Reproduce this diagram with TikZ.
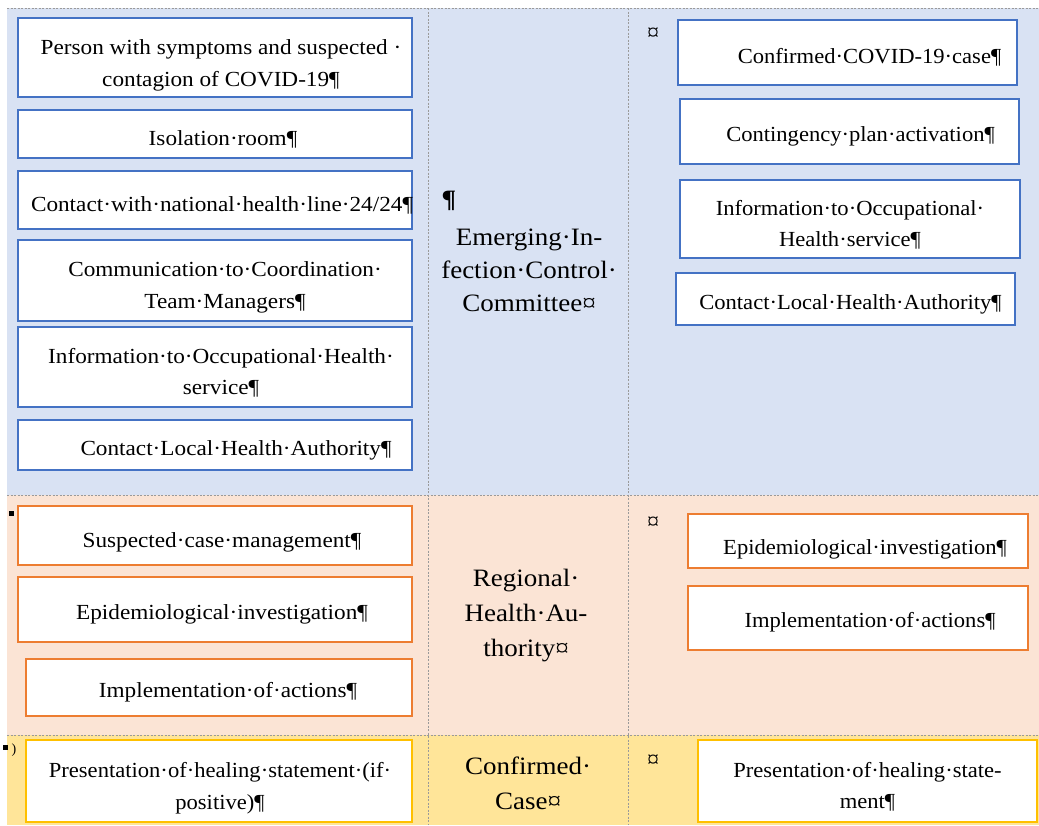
\documentclass[tikz,border=0pt]{standalone}
\usepackage{fontspec}
\setmainfont{Liberation Serif}
\newfontfamily\lfont[FakeStretch=1.08]{Liberation Serif}
\newfontfamily\rfont[FakeStretch=1.05]{Liberation Serif}
\definecolor{bluefill}{HTML}{D9E2F3}
\definecolor{orangefill}{HTML}{FBE4D5}
\definecolor{yellowfill}{HTML}{FFE599}
\definecolor{blueline}{HTML}{4472C4}
\definecolor{orangeline}{HTML}{ED7D31}
\definecolor{yellowline}{HTML}{FFC000}
\definecolor{gridgray}{HTML}{9A9A9A}
\tikzset{
  stepbox/.style={draw, line width=2.5pt, fill=white, inner sep=0pt},
  bluebox/.style={stepbox, draw=blueline},
  orangebox/.style={stepbox, draw=orangeline},
  yellowbox/.style={stepbox, draw=yellowline},
  ltext/.style={align=center, inner sep=0pt, font=\lfont\fontsize{21.5}{31.5}\selectfont},
  rtext/.style={align=center, inner sep=0pt, font=\rfont\fontsize{21.5}{31.5}\selectfont},
  midtext/.style={align=center, font=\lfont\fontsize{25}{33}\selectfont},
  cellmark/.style={font=\fontsize{24}{24}\selectfont, inner sep=0pt},
  gridline/.style={draw=gridgray, line width=0.8pt, dash pattern=on 2pt off 1.5pt}
}
\begin{document}
\begin{tikzpicture}[x=1pt,y=-1pt]
\useasboundingbox (0,0) rectangle (1039,825);
\fill[white] (0,0) rectangle (1039,825);
% row backgrounds
\fill[bluefill] (7,8) rectangle (1039,495);
\fill[orangefill] (7,495) rectangle (1039,735);
\fill[yellowfill] (7,735) rectangle (1039,825);
% grid
\draw[gridline] (7,8) -- (1039,8);
\draw[gridline] (7,495) -- (1039,495);
\draw[gridline] (7,735) -- (1039,735);
\draw[gridline] (428,8) -- (428,825);
\draw[gridline] (628,8) -- (628,825);

% ---- blue row, left column
\node[bluebox, minimum width=394pt, minimum height=79pt] (b1) at (215,57.5) {};
\node[ltext] (b1t) at ([xshift=6pt,yshift=-8pt]b1.center) {Person with symptoms and suspected ·\\contagion of COVID-19¶};
\node[bluebox, minimum width=394pt, minimum height=48pt] (b2) at (215,134) {};
\node[ltext] (b2t) at ([xshift=8pt,yshift=-5pt]b2.center) {Isolation·room¶};
\node[bluebox, minimum width=394pt, minimum height=58pt] (b3) at (215,200) {};
\node[ltext] (b3t) at ([xshift=7pt,yshift=-5pt]b3.center) {Contact·with·national·health·line·24/24¶};
\node[bluebox, minimum width=394pt, minimum height=81pt] (b4) at (215,280.5) {};
\node[ltext] (b4t) at ([xshift=10pt,yshift=-7pt]b4.center) {Communication·to·Coordination·\\Team·Managers¶};
\node[bluebox, minimum width=394pt, minimum height=80pt] (b5) at (215,367) {};
\node[ltext] (b5t) at ([xshift=6pt,yshift=-6pt]b5.center) {Information·to·Occupational·Health·\\service¶};
\node[bluebox, minimum width=394pt, minimum height=50pt] (b6) at (215,445) {};
\node[ltext] (b6t) at ([xshift=21pt,yshift=-5pt]b6.center) {Contact·Local·Health·Authority¶};

% ---- blue row, middle
\node[midtext, anchor=west] (bp) at (438,201) {\textbf{¶}};
\node[midtext] (bm) at (529,270) {Emerging·In-\\fection·Control·\\Committee¤};

% ---- blue row, right column
\node[cellmark] (bx) at (653,34) {¤};
\node[bluebox, minimum width=339pt, minimum height=65pt] (c1) at (847.5,52.5) {};
\node[rtext] (c1t) at ([xshift=22pt,yshift=-5pt]c1.center) {Confirmed·COVID-19·case¶};
\node[bluebox, minimum width=339pt, minimum height=65pt] (c2) at (849.5,131.5) {};
\node[rtext] (c2t) at ([xshift=11pt,yshift=-5pt]c2.center) {Contingency·plan·activation¶};
\node[bluebox, minimum width=340pt, minimum height=78pt] (c3) at (850,219) {};
\node[rtext] (c3t) at ([xshift=0pt,yshift=-6pt]c3.center) {Information·to·Occupational·\\Health·service¶};
\node[bluebox, minimum width=339pt, minimum height=52pt] (c4) at (845.5,299) {};
\node[rtext] (c4t) at ([xshift=5pt,yshift=-5pt]c4.center) {Contact·Local·Health·Authority¶};

% ---- orange row, left
\fill[black] (9,511) rectangle (14,516);
\node[orangebox, minimum width=394pt, minimum height=59pt] (o1) at (215,535.5) {};
\node[ltext] (o1t) at ([xshift=7pt,yshift=-7pt]o1.center) {Suspected·case·management¶};
\node[orangebox, minimum width=394pt, minimum height=65pt] (o2) at (215,609.5) {};
\node[ltext] (o2t) at ([xshift=7pt,yshift=-5pt]o2.center) {Epidemiological·investigation¶};
\node[orangebox, minimum width=386pt, minimum height=57pt] (o3) at (219,687.5) {};
\node[ltext] (o3t) at ([xshift=9pt,yshift=-5pt]o3.center) {Implementation·of·actions¶};

% ---- orange row, middle
\node[midtext, font=\lfont\fontsize{25}{35}\selectfont] (om) at (526,616) {Regional·\\Health·Au-\\thority¤};

% ---- orange row, right
\node[cellmark] (ox) at (653,523) {¤};
\node[orangebox, minimum width=340pt, minimum height=54pt] (p1) at (858,541) {};
\node[rtext] (p1t) at ([xshift=7pt,yshift=-8pt]p1.center) {Epidemiological·investigation¶};
\node[orangebox, minimum width=340pt, minimum height=64pt] (p2) at (858,618) {};
\node[rtext] (p2t) at ([xshift=12pt,yshift=-4pt]p2.center) {Implementation·of·actions¶};

% ---- yellow row
\fill[black] (3,745) rectangle (8,750);
\node[font=\fontsize{14}{14}\selectfont, inner sep=0pt] (yp) at (14,750) {)};
\node[yellowbox, minimum width=386pt, minimum height=82pt] (y1) at (219,781) {};
\node[rtext] (y1t) at ([xshift=1pt,yshift=-7pt]y1.center) {Presentation·of·healing·statement·(if·\\positive)¶};
\node[midtext, font=\lfont\fontsize{25}{35}\selectfont] (ym) at (528,783) {Confirmed·\\Case¤};
\node[cellmark] (yx) at (653,761) {¤};
\node[yellowbox, minimum width=339pt, minimum height=82pt] (y2) at (867.5,781) {};
\node[rtext] (y2t) at ([xshift=0pt,yshift=-6pt]y2.center) {Presentation·of·healing·state-\\ment¶};
\end{tikzpicture}
\end{document}
